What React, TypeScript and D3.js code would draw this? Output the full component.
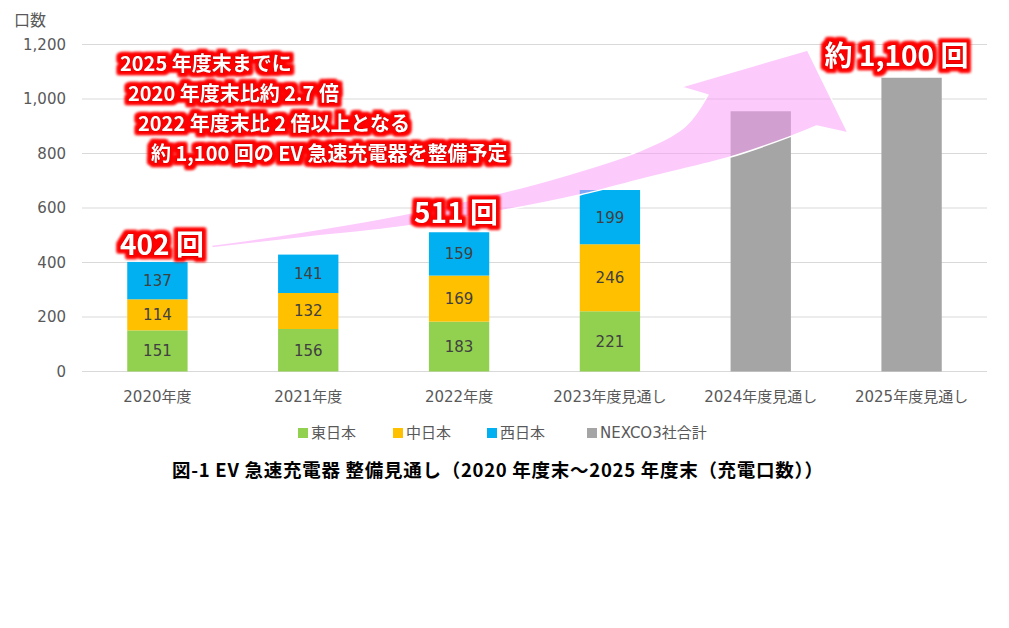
import React from 'react';
import * as d3 from 'd3';

// categories and series (口数)
const categories = ['2020年度', '2021年度', '2022年度', '2023年度見通し', '2024年度見通し', '2025年度見通し'];
const east = [151, 156, 183, 221, 0, 0];
const central = [114, 132, 169, 246, 0, 0];
const west = [137, 141, 159, 199, 0, 0];
const nexcoTotal = [0, 0, 0, 0, 955, 1078];
const yTicks = [0, 200, 400, 600, 800, 1000, 1200];

const seriesNames = ['東日本', '中日本', '西日本', 'NEXCO3社合計'];
const seriesColors = ['#92d050', '#ffc000', '#00b0f0', '#a5a5a5'];

// annotation text
const noteLines = [
	'2025 年度末までに',
	'2020 年度末比約 2.7 倍',
	'2022 年度末比 2 倍以上となる',
	'約 1,100 回の EV 急速充電器を整備予定'
];
const callouts = [
	{ text: '402 回', cat: 0.03, value: 428 },
	{ text: '511 回', cat: 1.98, value: 545 },
	{ text: '約 1,100 回', cat: 4.9, value: 1120 }
];

// big curved arrow, in (category index, value) space
const arrowLower = [[0.36, 453], [0.95, 490], [1.61, 530], [2.27, 589], [2.8, 648], [3.27, 714], [3.8, 787], [4.19, 861], [4.37, 901]];
const arrowHead = [[4.58, 875], [4.31, 1180], [3.47, 1044]];
const arrowUpper = [[3.65, 1015], [3.5, 900], [3.2, 810], [2.67, 714], [2.27, 655], [1.61, 574], [0.95, 511], [0.36, 464]];

const W = 1009, H = 628;
const margin = { top: 44.5, right: 22, bottom: 256.5, left: 82 };

export default function App() {
	const innerW = W - margin.left - margin.right;

	const x = d3.scaleBand<string>()
		.domain(categories)
		.range([margin.left, margin.left + innerW])
		.paddingInner(0.6)
		.paddingOuter(0.3);

	const y = d3.scaleLinear()
		.domain([0, 1200])
		.range([H - margin.bottom, margin.top]);

	// category index -> pixel (center of band)
	const xi = (i: number) => (x(categories[0]) as number) + x.bandwidth() / 2 + i * x.step();

	const stacks = categories.map((c, i) => {
		const vals = [east[i], central[i], west[i], nexcoTotal[i]];
		let acc = 0;
		return vals.map((v, k) => {
			const seg = { cat: c, k, y0: acc, y1: acc + v, v };
			acc += v;
			return seg;
		}).filter(s => s.v > 0);
	});

	const edge = d3.line<number[]>()
		.x(d => xi(d[0]))
		.y(d => y(d[1]))
		.curve(d3.curveCatmullRom.alpha(0.5));
	const lowerPath = edge(arrowLower) || '';
	const upperPath = (edge(arrowUpper) || '').replace(/^M/, 'L');
	const headPath = arrowHead.map(p => `L${xi(p[0])},${y(p[1])}`).join('');
	const arrowPath = lowerPath + headPath + upperPath + 'Z';

	const labelFont = '"DejaVu Sans", "Noto Sans CJK JP", sans-serif';
	const jpFont = '"Noto Sans CJK JP", sans-serif';

	const legendX = [298, 393, 487, 587];

	return (
		<svg width={W} height={H} style={{ position: 'absolute', left: 0, top: 0, background: '#fff' }}>
			<defs>
				<filter id="glow" x="-20%" y="-60%" width="140%" height="220%">
					<feMorphology in="SourceAlpha" operator="dilate" radius="3" result="d" />
					<feGaussianBlur in="d" stdDeviation="1.8" result="b" />
					<feFlood floodColor="#ff0000" />
					<feComposite in2="b" operator="in" result="red" />
					<feMerge>
						<feMergeNode in="red" />
						<feMergeNode in="red" />
						<feMergeNode in="SourceGraphic" />
					</feMerge>
				</filter>
			</defs>

			{/* grid + y labels */}
			{yTicks.map(t => (
				<g key={t}>
					<line x1={margin.left} x2={margin.left + innerW} y1={y(t)} y2={y(t)} stroke="#d9d9d9" strokeWidth={1} />
					<text x={66} y={y(t)} dy="0.35em" textAnchor="end" fontSize={15} fill="#595959" fontFamily={labelFont}>
						{d3.format(',')(t)}
					</text>
				</g>
			))}
			<text x={14} y={26} fontSize={16} fill="#595959" fontFamily={jpFont}>口数</text>

			{/* bars */}
			{stacks.map((segs, i) => (
				<g key={i}>
					{segs.map(s => (
						<rect key={s.k} x={x(s.cat)} width={x.bandwidth()} y={y(s.y1)} height={y(s.y0) - y(s.y1)} fill={seriesColors[s.k]} />
					))}
					{segs.filter(s => s.k < 3).map(s => (
						<text key={'t' + s.k} x={(x(s.cat) as number) + x.bandwidth() / 2} y={y((s.y0 + s.y1) / 2)} dy="0.36em"
							textAnchor="middle" fontSize={15} fill="#404040" fontFamily={labelFont}>{s.v}</text>
					))}
				</g>
			))}

			{/* x labels */}
			{categories.map(c => (
				<text key={c} x={(x(c) as number) + x.bandwidth() / 2} y={397} dy="0.35em" textAnchor="middle" fontSize={15} fill="#595959" fontFamily={labelFont}>{c}</text>
			))}

			{/* legend */}
			{seriesNames.map((n, k) => (
				<g key={n}>
					<rect x={legendX[k]} y={428} width={10} height={10} fill={seriesColors[k]} />
					<text x={legendX[k] + 13} y={433} dy="0.35em" fontSize={15} fill="#595959" fontFamily={labelFont}>{n}</text>
				</g>
			))}

			{/* arrow */}
			<path d={arrowPath} fill="rgb(250,156,250)" fillOpacity={0.52} stroke="#fff" strokeWidth={1.5} strokeLinejoin="round" />

			{/* annotation text */}
			<g filter="url(#glow)" fontFamily={jpFont} fontWeight="bold" fill="#fff" stroke="#d00000" strokeWidth={1.2} style={{ paintOrder: 'stroke' }}>
				{noteLines.map((t, k) => (
					<text key={k} x={120 + [0, 8, 18, 31][k]} y={71 + k * 30} fontSize={20} xmlSpace="preserve">{t}</text>
				))}
				{callouts.map(c => (
					<text key={c.text} x={xi(c.cat)} y={y(c.value)} textAnchor="middle" fontSize={28}>{c.text}</text>
				))}
			</g>

			{/* caption */}
			<text x={172} y={477} textLength={651} lengthAdjust="spacing" fontSize={18.5} fontWeight="bold" fill="#000" fontFamily={jpFont}>
				図-1 EV 急速充電器 整備見通し（2020 年度末～2025 年度末（充電口数））
			</text>
		</svg>
	);
}
